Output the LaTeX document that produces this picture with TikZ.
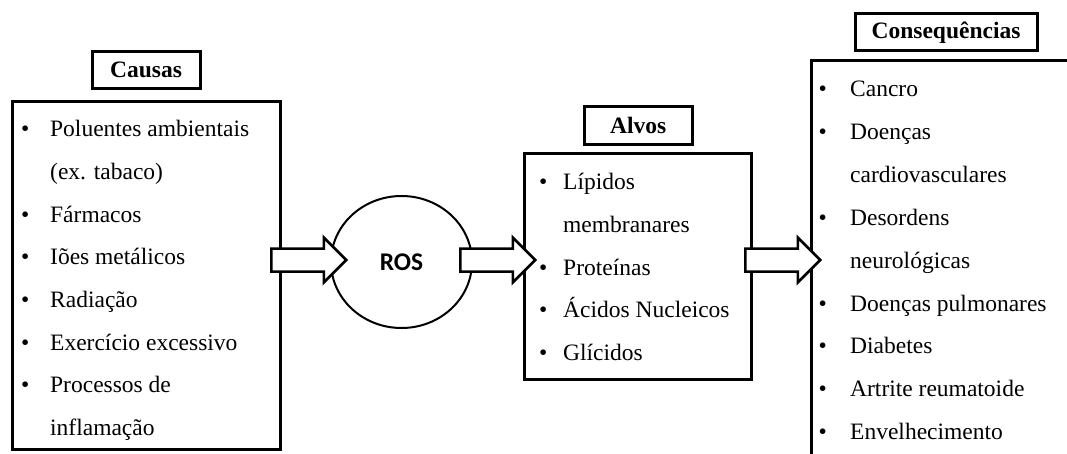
\documentclass[tikz,border=0pt]{standalone}
\usepackage{fontspec}
\setmainfont{Liberation Serif}
\newfontfamily\rosfont{Carlito}
\usepackage{tikz}
\usetikzlibrary{shapes.geometric,shapes.arrows}
\newcommand{\itm}[2]{\makebox[#1][l]{\textbullet}#2}

\begin{document}
\begin{tikzpicture}[x=1pt, y=-1pt, every node/.style={font=\fontsize{23.5}{28}\selectfont},
    titlebox/.style={draw, line width=3pt, inner sep=0pt, outer sep=0pt, font=\fontsize{23.5}{28}\selectfont\bfseries},
    listbox/.style={draw, line width=3pt, inner sep=0pt, outer sep=0pt},
    item/.style={anchor=base west, inner sep=0pt},
    blockarrow/.style={shape=single arrow, draw, fill=white, line width=2.5pt, inner xsep=0pt, inner ysep=10.25pt,
        single arrow head extend=11pt, minimum height=75pt, anchor=tail}]
                \useasboundingbox (0,0) rectangle (1067,454);
                \clip (0,0) rectangle (1067,454);

                % Causes
                \node[titlebox, minimum width=108pt, minimum height=37.5pt] (causas) at (146, 70.25) {Causas};
                \node[listbox, minimum width=268pt, minimum height=347.5pt] (causasbox) at (146, 275.75) {};
                \node[item] (c1) at (21, 137) {\itm{29pt}{Poluentes ambientais}};
                \node[item] (c2) at (50, 179.6) {(ex. tabaco)};
                \node[item] (c3) at (21, 222.2) {\itm{29pt}{Fármacos}};
                \node[item] (c4) at (21, 264.8) {\itm{29pt}{Iões metálicos}};
                \node[item] (c5) at (21, 307.4) {\itm{29pt}{Radiação}};
                \node[item] (c6) at (21, 350) {\itm{29pt}{Exercício excessivo}};
                \node[item] (c7) at (21, 392.6) {\itm{29pt}{Processos de}};
                \node[item] (c8) at (50, 435.2) {inflamação};

                % ROS
                \node[draw, ellipse, line width=2pt, minimum width=141pt, minimum height=132pt, inner sep=0pt,
                    font=\rosfont\bfseries\fontsize{25.5}{30}\selectfont] (ros) at (401.5, 262) {ROS};

                % Targets
                \node[titlebox, minimum width=108.5pt, minimum height=37.6pt] (alvos) at (638.25, 125.5) {Alvos};
                \node[listbox, minimum width=227pt, minimum height=225.5pt] (alvosbox) at (637.5, 266.25) {};
                \node[item] (a1) at (539, 190) {\itm{24pt}{Lípidos}};
                \node[item] (a2) at (563, 232.6) {membranares};
                \node[item] (a3) at (539, 275.2) {\itm{24pt}{Proteínas}};
                \node[item] (a4) at (539, 317.8) {\itm{24pt}{Ácidos Nucleicos}};
                \node[item] (a5) at (539, 360.4) {\itm{24pt}{Glícidos}};

                % Consequences
                \node[titlebox, minimum width=182pt, minimum height=37pt] (conseq) at (946, 32.5) {Consequências};
                \node[listbox, minimum width=300pt, minimum height=420pt, anchor=north west] (conseqbox) at (811, 61) {};
                \node[item] (q1) at (818.5, 96.5) {\itm{31.5pt}{Cancro}};
                \node[item] (q2) at (818.5, 139.4) {\itm{31.5pt}{Doenças}};
                \node[item] (q3) at (850, 182.3) {cardiovasculares};
                \node[item] (q4) at (818.5, 225.2) {\itm{31.5pt}{Desordens}};
                \node[item] (q5) at (850, 268.1) {neurológicas};
                \node[item] (q6) at (818.5, 311) {\itm{31.5pt}{Doenças pulmonares}};
                \node[item] (q7) at (818.5, 353.9) {\itm{31.5pt}{Diabetes}};
                \node[item] (q8) at (818.5, 396.8) {\itm{31.5pt}{Artrite reumatoide}};
                \node[item] (q9) at (818.5, 439.7) {\itm{31.5pt}{Envelhecimento}};

                % Arrows
                \node[blockarrow] (arrow1) at (270, 260) {};
                \node[blockarrow] (arrow2) at (459, 260) {};
                \node[blockarrow] (arrow3) at (744, 260) {};
            \end{tikzpicture}
\end{document}
